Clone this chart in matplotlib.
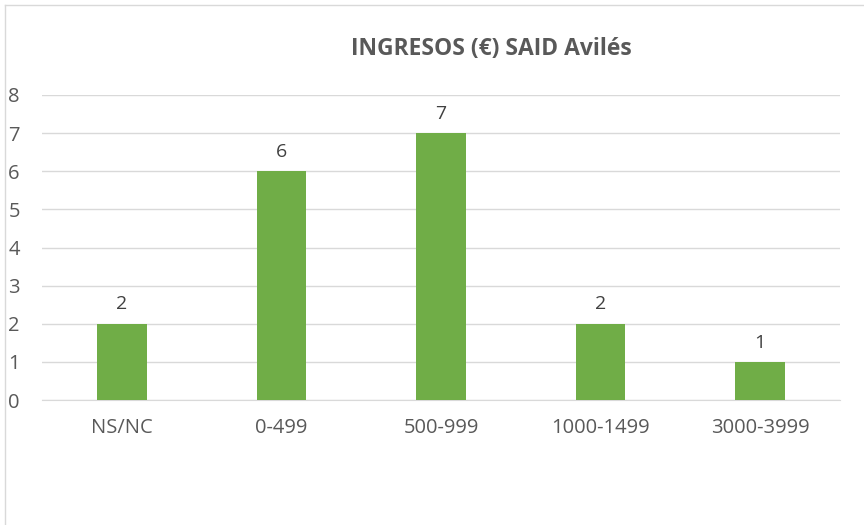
import matplotlib
matplotlib.use("Agg")
import matplotlib.pyplot as plt
from matplotlib.lines import Line2D

categories = ["NS/NC", "0-499", "500-999", "1000-1499", "3000-3999"]
values = [2, 6, 7, 2, 1]
title = "INGRESOS (€) SAID Avilés"

plt.rcParams["font.family"] = ["Open Sans", "DejaVu Sans"]

fig = plt.figure(figsize=(8.64, 5.25), dpi=100)
ax = fig.add_axes([42 / 864, 1 - 400 / 525, 798 / 864, 305 / 525])

x = range(len(categories))
ax.bar(x, values, width=0.31, color="#70AD47", zorder=3)
for xi, v in zip(x, values):
    ax.text(xi, v + 0.27, str(v), ha="center", va="bottom", fontsize=14, color="#404040")

ax.set_xlim(-0.5, len(categories) - 0.5)
ax.set_ylim(0, 8)
ax.set_yticks(range(0, 9))
ax.set_xticks(list(x))
ax.set_xticklabels(categories)
ax.tick_params(axis="both", length=0, labelsize=14.5, labelcolor="#595959")
ax.tick_params(axis="x", pad=13)
ax.tick_params(axis="y", pad=16)
ax.grid(axis="y", color="#D9D9D9", linewidth=1, zorder=0)
for s in ["top", "right", "left"]:
    ax.spines[s].set_visible(False)
ax.spines["bottom"].set_color("#D9D9D9")

fig.text(491 / 864, 1 - 49 / 525, title, ha="center", va="center",
         fontsize=16.5, fontweight="bold", color="#595959")

# chart frame (left and top edges visible)
fig.add_artist(Line2D([5 / 864, 5 / 864], [0, 1 - 5 / 525], transform=fig.transFigure,
                      color="#D9D9D9", linewidth=1))
fig.add_artist(Line2D([5 / 864, 1], [1 - 5 / 525, 1 - 5 / 525], transform=fig.transFigure,
                      color="#D9D9D9", linewidth=1))

fig.savefig("out.png", dpi=100)
